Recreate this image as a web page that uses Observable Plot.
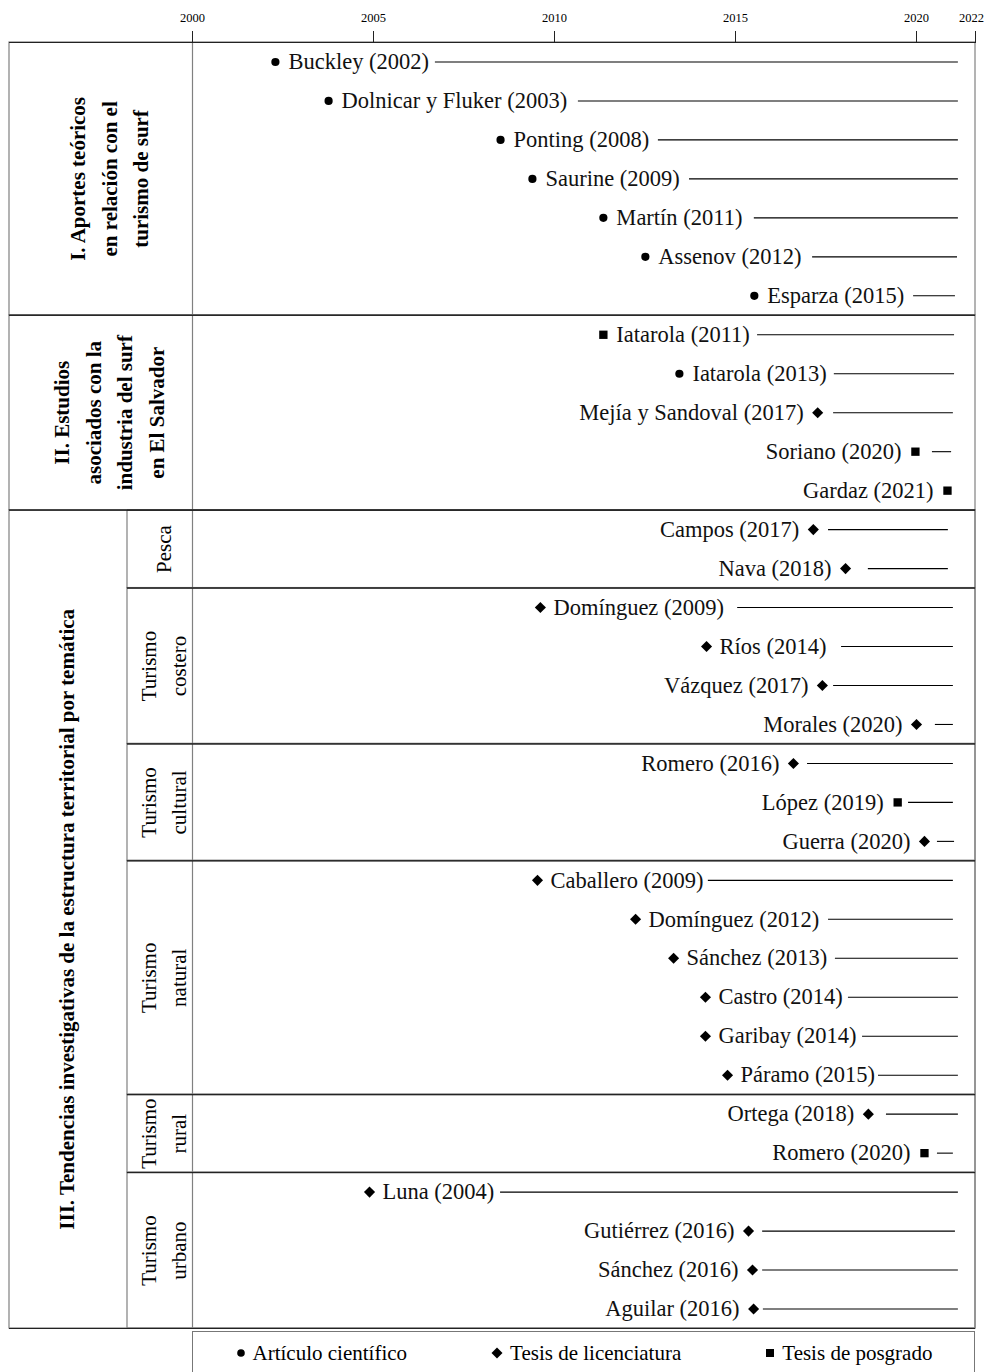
<!DOCTYPE html>
<html>
<head>
<meta charset="utf-8">
<script src="https://cdn.jsdelivr.net/npm/d3@7"></script>
<script src="https://cdn.jsdelivr.net/npm/@observablehq/plot@0.6"></script>
<style>
  html, body { margin: 0; padding: 0; background: #fff; }
  body { font-family: "Liberation Serif", "DejaVu Serif", serif; color: #000; }
  #legend {
    box-sizing: border-box;
    margin-left: 192px; width: 783px; height: 44px; margin-top: 1px;
    border: 1px solid #777;
    display: flex; justify-content: space-around; align-items: center;
    font-size: 21px;
  }
  #legend span.item { display: inline-flex; align-items: center; gap: 6px; }
</style>
</head>
<body>
<div id="chart"></div>
<div id="legend"></div>
<script>
// ---- Data ----
const labels = [
  "Buckley (2002)", "Dolnicar y Fluker (2003)", "Ponting (2008)", "Saurine (2009)", "Martín (2011)", "Assenov (2012)", "Esparza (2015)",
  "Iatarola (2011)", "Iatarola (2013)", "Mejía y Sandoval (2017)", "Soriano (2020)", "Gardaz (2021)",
  "Campos (2017)", "Nava (2018)",
  "Domínguez (2009)", "Ríos (2014)", "Vázquez (2017)", "Morales (2020)",
  "Romero (2016)", "López (2019)", "Guerra (2020)",
  "Caballero (2009)", "Domínguez (2012)", "Sánchez (2013)", "Castro (2014)", "Garibay (2014)", "Páramo (2015)",
  "Ortega (2018)", "Romero (2020)",
  "Luna (2004)", "Gutiérrez (2016)", "Sánchez (2016)", "Aguilar (2016)"
];
const section = [
  "I","I","I","I","I","I","I",
  "II","II","II","II","II",
  "III","III","III","III","III","III","III","III","III","III","III","III","III","III","III","III","III","III","III","III","III"
];
const subgroup = [
  null,null,null,null,null,null,null,
  null,null,null,null,null,
  "pesca","pesca",
  "costero","costero","costero","costero",
  "cultural","cultural","cultural",
  "natural","natural","natural","natural","natural","natural",
  "rural","rural",
  "urbano","urbano","urbano","urbano"
];
// a = artículo científico, l = tesis de licenciatura, p = tesis de posgrado
const docType = [
  "a","a","a","a","a","a","a",
  "p","a","l","p","p",
  "l","l",
  "l","l","l","l",
  "l","p","l",
  "l","l","l","l","l","l",
  "l","p",
  "l","l","l","l"
];
// marker position on the time axis (year)
const markerYear = [
  2002.29, 2003.76, 2008.51, 2009.39, 2011.35, 2012.51, 2015.52,
  2011.35, 2013.45, 2017.27, 2019.97, 2021.05,
  2017.15, 2018.04,
  2009.61, 2014.20, 2017.40, 2020.00,
  2016.60, 2019.48, 2020.27,
  2009.53, 2012.24, 2013.29, 2014.17, 2014.17, 2014.78,
  2018.67, 2020.27,
  2004.89, 2015.36, 2015.47, 2015.50
];
const labelSide = [
  "r","r","r","r","r","r","r",
  "r","r","l","l","l",
  "l","l",
  "r","r","l","l",
  "l","l","l",
  "r","r","r","r","r","r",
  "l","l",
  "r","l","l","l"
];
// timeline segment (start, end) in years
const lineStart = [
  2006.71, 2010.66, 2012.87, 2013.73, 2015.52, 2017.13, 2019.92,
  2015.61, 2017.73, 2017.71, 2020.54, null,
  2017.57, 2018.67,
  2015.06, 2017.93, 2017.71, 2020.64,
  2016.99, 2019.78, 2020.71,
  2014.25, 2017.57, 2017.76, 2018.12, 2018.51, 2018.95,
  2019.17, 2020.71,
  2008.51, 2015.75, 2015.75, 2015.77
];
const lineEnd = [
  2021.42, 2021.42, 2021.42, 2021.42, 2021.42, 2021.39, 2021.32,
  2021.29, 2021.29, 2021.25, 2021.19, null,
  2021.08, 2021.08,
  2021.25, 2021.25, 2021.25, 2021.25,
  2021.25, 2021.25, 2021.29,
  2021.25, 2021.25, 2021.42, 2021.42, 2021.42, 2021.42,
  2021.42, 2021.25,
  2021.42, 2021.32, 2021.42, 2021.42
];
const sectionKeys = ["I", "II", "III"];
const sectionTitles = [
  "I. Aportes teóricos\nen relación con el\nturismo de surf",
  "II. Estudios\nasociados con la\nindustria del surf\nen El Salvador",
  "III. Tendencias investigativas de la estructura territorial por temática"
];
const subgroupKeys = ["pesca", "costero", "cultural", "natural", "rural", "urbano"];
const subgroupTitles = ["Pesca", "Turismo\ncostero", "Turismo\ncultural", "Turismo\nnatural", "Turismo\nrural", "Turismo\nurbano"];
const typeKeys = ["a", "l", "p"];
const typeNames = ["Artículo científico", "Tesis de licenciatura", "Tesis de posgrado"];
const typeSymbols = ["circle", "diamond2", "square"];
const tickYears = [2000, 2005, 2010, 2015, 2020, 2022];

// ---- Build table ----
const rows = labels.map((label, i) => ({
  i, label, section: section[i], sub: subgroup[i], type: docType[i],
  pos: markerYear[i], side: labelSide[i], x1: lineStart[i], x2: lineEnd[i]
}));
const n = rows.length;
function extents(keyFn, keys, titles) {
  return keys.map((k, j) => {
    const v = rows.filter(d => keyFn(d) === k);
    const lo = d3.min(v, d => d.i) - 0.5, hi = d3.max(v, d => d.i) + 0.5;
    return { key: k, title: titles[j], y1: lo, y2: hi, mid: (lo + hi) / 2 };
  });
}
const secs = extents(d => d.section, sectionKeys, sectionTitles);
const subs = extents(d => d.sub, subgroupKeys, subgroupTitles);
const secBounds = secs.flatMap(s => [s.y1, s.y2]);
const subBounds = subs.flatMap(s => [s.y1, s.y2]);
const lastTick = tickYears[tickYears.length - 1];

const FONT = "Liberation Serif, DejaVu Serif, serif";
const VGRAY = "#808080";
const HDARK = "#222";
const LABEL_SIZE = 22.5;
const symbolR = { a: 4.1, l: 5.0, p: 4.7 };

const chart = Plot.plot({
  width: 985,
  height: 1330,
  marginTop: 42,
  marginBottom: 2,
  marginLeft: 192,
  marginRight: 10,
  style: { fontFamily: FONT, fontSize: "13px", background: "#fff", color: "#000", overflow: "visible" },
  x: { type: "linear", domain: [tickYears[0], 2020, lastTick], range: [192, 916, 975], axis: null },
  y: { type: "linear", domain: [-0.5, n - 0.5], reverse: true, axis: null },
  symbol: { domain: typeKeys, range: typeSymbols },
  marks: [
    // frames (vertical edges in gray)
    Plot.rect(secs, { y1: "y1", y2: "y2", insetLeft: -183, fill: "none", stroke: VGRAY, strokeWidth: 1.2 }),
    Plot.rect(subs, { y1: "y1", y2: "y2", insetLeft: -65, fill: "none", stroke: VGRAY, strokeWidth: 1.2 }),
    Plot.ruleX([tickYears[0]], { y1: -0.5, y2: n - 0.5, stroke: VGRAY, strokeWidth: 1.2 }),
    // horizontal separators
    Plot.ruleY(subBounds, { insetLeft: -65, stroke: HDARK, strokeWidth: 1 }),
    Plot.ruleY(secBounds, { insetLeft: -183, stroke: HDARK, strokeWidth: 1 }),
    // top time axis (ticks + labels; last label nudged inside the page)
    Plot.axisX({ anchor: "top", ticks: tickYears, tickSize: 12, tickPadding: 9,
      tickFormat: d => (d === lastTick ? "" : String(d)),
      fontSize: 12.5, fontFamily: FONT, stroke: "#222", label: null }),
    Plot.axisX({ anchor: "top", ticks: [lastTick], tickSize: 0, tickPadding: 21, dx: -4,
      tickFormat: d => String(d), fontSize: 12.5, fontFamily: FONT, label: null }),
    // timelines
    Plot.ruleY(rows.filter(d => d.x1 != null), { y: "i", x1: "x1", x2: "x2", stroke: "#000", strokeWidth: 1.1 }),
    // markers
    ...typeKeys.map(k => Plot.dot(rows.filter(d => d.type === k), { x: "pos", y: "i", symbol: "type", fill: "#000", stroke: "none", r: symbolR[k] })),
    // labels
    Plot.text(rows.filter(d => d.side === "r"), { x: "pos", y: "i", text: "label", textAnchor: "start", dx: 13,
      fontSize: LABEL_SIZE, fontFamily: FONT, fill: "#111" }),
    Plot.text(rows.filter(d => d.side === "l"), { x: "pos", y: "i", text: "label", textAnchor: "end", dx: -14,
      fontSize: LABEL_SIZE, fontFamily: FONT, fill: "#111" }),
    // section titles
    Plot.text(secs.filter(s => s.key !== "III"), { y: "mid", text: "title", frameAnchor: "left", dx: -86, rotate: -90,
      textAnchor: "middle", lineAnchor: "middle", fontWeight: "bold", fontSize: 21, lineHeight: 1.5, fontFamily: FONT }),
    Plot.text(secs.filter(s => s.key === "III"), { y: "mid", text: "title", frameAnchor: "left", dx: -129, rotate: -90,
      textAnchor: "middle", lineAnchor: "middle", fontWeight: "bold", fontSize: 21, lineHeight: 1.5, fontFamily: FONT }),
    // subgroup titles
    Plot.text(subs, { y: "mid", text: "title", frameAnchor: "left", dx: -31, rotate: -90,
      textAnchor: "middle", lineAnchor: "middle", fontSize: 21, lineHeight: 1.43, fontFamily: FONT })
  ]
});
document.getElementById("chart").appendChild(chart);

// ---- Legend ----
const legend = document.getElementById("legend");
const symbolSvg = {
  circle: '<svg width="12" height="12" viewBox="-6 -6 12 12"><circle r="3.8" fill="#000"/></svg>',
  diamond2: '<svg width="14" height="14" viewBox="-7 -7 14 14"><path d="M0,-5.5L5.5,0L0,5.5L-5.5,0Z" fill="#000"/></svg>',
  square: '<svg width="12" height="12" viewBox="-6 -6 12 12"><rect x="-4" y="-4" width="8" height="8" fill="#000"/></svg>'
};
typeKeys.forEach((k, j) => {
  const s = document.createElement("span");
  s.className = "item";
  s.innerHTML = symbolSvg[typeSymbols[j]] + "<span>" + typeNames[j] + "</span>";
  legend.appendChild(s);
});
</script>
</body>
</html>
